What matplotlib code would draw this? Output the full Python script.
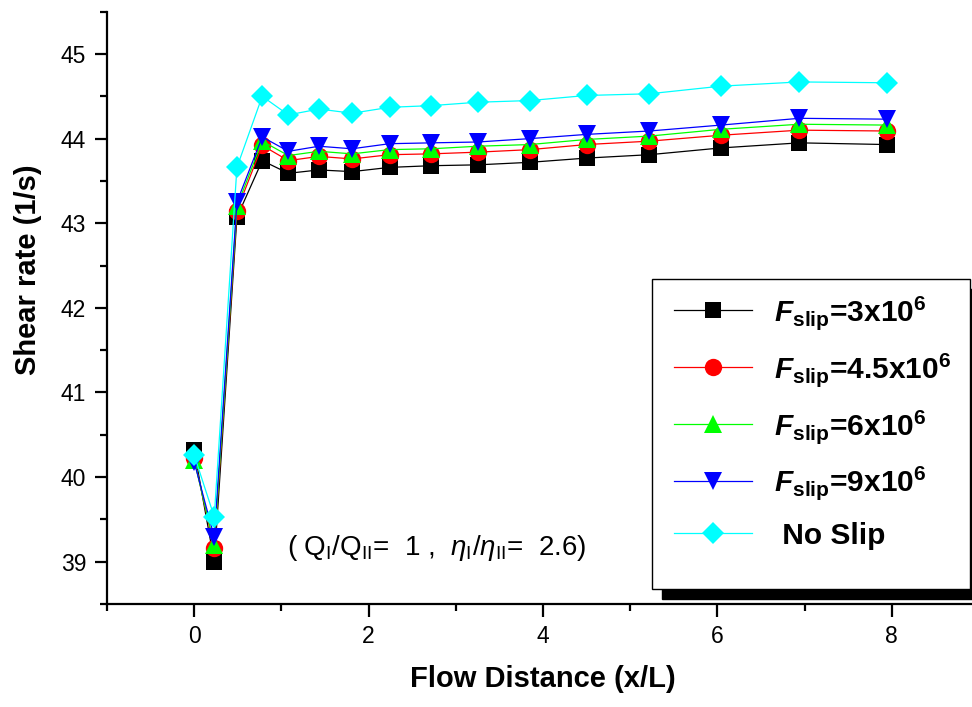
import matplotlib
matplotlib.use('Agg')
import matplotlib.pyplot as plt
from matplotlib.ticker import MultipleLocator
from matplotlib.patches import Rectangle

plt.rcParams['font.family'] = ['Liberation Sans', 'DejaVu Sans']
plt.rcParams['mathtext.fontset'] = 'custom'
plt.rcParams['mathtext.rm'] = 'Liberation Sans'
plt.rcParams['mathtext.it'] = 'Liberation Sans:italic'
plt.rcParams['mathtext.bf'] = 'Liberation Sans:bold'
plt.rcParams['mathtext.bfit'] = 'Liberation Sans:bold:italic'

# Flow distance positions (x/L)
x = [0, 0.23, 0.49, 0.78, 1.08, 1.43, 1.81, 2.24, 2.72, 3.25, 3.85, 4.5, 5.22, 6.04, 6.94, 7.94]

# Shear rate for each slip coefficient
f3 = [40.32, 39.00, 43.07, 43.74, 43.59, 43.63, 43.61, 43.66, 43.68, 43.69, 43.72, 43.77, 43.81, 43.89, 43.95, 43.93]
f45 = [40.22, 39.16, 43.15, 43.92, 43.74, 43.79, 43.76, 43.81, 43.82, 43.84, 43.87, 43.93, 43.97, 44.04, 44.10, 44.09]
f6 = [40.20, 39.20, 43.20, 43.97, 43.80, 43.85, 43.82, 43.87, 43.88, 43.91, 43.93, 43.99, 44.03, 44.11, 44.17, 44.16]
f9 = [40.18, 39.29, 43.25, 44.02, 43.85, 43.91, 43.88, 43.94, 43.95, 43.96, 44.00, 44.05, 44.09, 44.16, 44.24, 44.23]
noslip = [40.26, 39.53, 43.66, 44.50, 44.28, 44.35, 44.30, 44.37, 44.39, 44.43, 44.45, 44.51, 44.53, 44.62, 44.67, 44.66]

labels = [r'$\mathbfit{F}_{\mathbf{slip}}$=3x10$^{\mathbf{6}}$',
          r'$\mathbfit{F}_{\mathbf{slip}}$=4.5x10$^{\mathbf{6}}$',
          r'$\mathbfit{F}_{\mathbf{slip}}$=6x10$^{\mathbf{6}}$',
          r'$\mathbfit{F}_{\mathbf{slip}}$=9x10$^{\mathbf{6}}$',
          ' No Slip']

fig = plt.figure(figsize=(9.72, 7.07), dpi=100)
ax = fig.add_axes([107 / 972, 103 / 707, 872 / 972, 592.3 / 707])

series = [f3, f45, f6, f9, noslip]
colors = ['black', '#ff0000', '#00ff00', '#0000ff', '#00ffff']
markers = ['s', 'o', '^', 'v', 'D']
msizes = [11, 12.5, 13, 13, 11]

for ys, col, mk, ms, lab in zip(series, colors, markers, msizes, labels):
    ax.plot(x, ys, color=col, marker=mk, markersize=ms, linewidth=0.9,
            markeredgewidth=0, label=lab)

ax.set_xlim(-1, 9)
ax.set_ylim(38.5, 45.5)
ax.xaxis.set_major_locator(MultipleLocator(2))
ax.xaxis.set_minor_locator(MultipleLocator(1))
ax.yaxis.set_major_locator(MultipleLocator(1))
ax.yaxis.set_minor_locator(MultipleLocator(0.5))

for side in ['top', 'right']:
    ax.spines[side].set_visible(False)
for side in ['left', 'bottom']:
    ax.spines[side].set_linewidth(1.6)

ax.tick_params(which='major', direction='out', length=9, width=1.6, labelsize=16.5, pad=6)
ax.tick_params(which='minor', direction='out', length=5, width=1.6)

ax.set_xlabel('Flow Distance (x/L)', fontsize=21, fontweight='bold')
ax.set_ylabel('Shear rate (1/s)', fontsize=21, fontweight='bold')
ax.xaxis.set_label_coords(0.5, -0.103)
ax.yaxis.set_label_coords(-0.074, 0.564)

ax.text(2.78, 39.16, r'( Q$_{\rm I}$/Q$_{\rm II}$=  1 ,  $\eta_{\rm I}$/$\eta_{\rm II}$=  2.6)',
        fontsize=20, ha='center', va='center')

# legend box with a solid black drop shadow
bx, by, bw, bh = 652 / 972, 1 - 589 / 707, 318 / 972, 310 / 707
fig.patches.append(Rectangle((bx + 10 / 972, by - 10 / 707), bw, bh, transform=fig.transFigure,
                             facecolor='black', edgecolor='black', zorder=3))
fig.patches.append(Rectangle((bx, by), bw, bh, transform=fig.transFigure,
                             facecolor='white', edgecolor='black', linewidth=1.0, zorder=4))

handles, labs = ax.get_legend_handles_labels()
leg = fig.legend(handles, labs, loc='upper left', bbox_to_anchor=(bx + 7 / 972, 1 - 279 / 707),
                 bbox_transform=fig.transFigure, borderaxespad=0, frameon=False,
                 prop={'size': 21.5, 'weight': 'bold'}, handlelength=2.6, handletextpad=0.75,
                 borderpad=0.5, labelspacing=0.64)
leg.set_zorder(5)

plt.savefig('out.png', dpi=100)
